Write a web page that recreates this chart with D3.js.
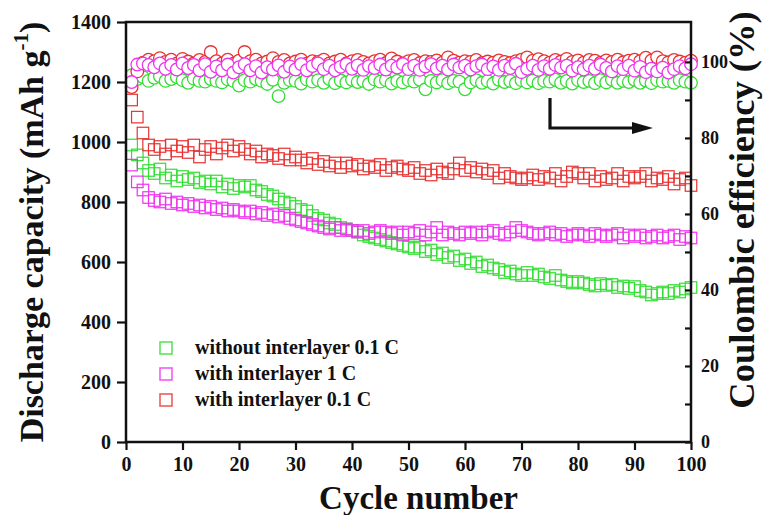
<!DOCTYPE html>
<html>
<head>
<meta charset="utf-8">
<script src="https://cdn.jsdelivr.net/npm/d3@7/dist/d3.min.js"></script>
<style>
  html, body { margin: 0; padding: 0; background: #fff; }
  svg text { font-family: "Liberation Serif", "Times New Roman", serif; font-weight: bold; fill: #111; }
</style>
</head>
<body>
<svg id="chart" width="764" height="515"></svg>
<script>
// ---------- DATA ----------
const cycles = d3.range(1, 101);

const capWithout01C = [
  990, 957, 930, 905, 895, 910, 880, 890, 870, 885,
  875, 880, 865, 870, 860, 870, 850, 860, 845, 855,
  850, 855, 840, 835, 825, 820, 810, 800, 795, 785,
  775, 770, 755, 745, 740, 730, 725, 715, 710, 705,
  700, 690, 685, 680, 675, 670, 665, 660, 655, 650,
  645, 650, 635, 640, 625, 630, 615, 620, 605, 610,
  595, 600, 585, 590, 580, 575, 565, 570, 560, 555,
  565, 555, 560, 550, 545, 555, 540, 535, 530, 535,
  530, 525, 520, 528, 522, 525, 515, 520, 512, 518,
  505, 500, 490, 495, 500, 495, 505, 500, 510, 515
];
const capWith1C = [
  923, 867, 840, 815, 805, 800, 810, 795, 800, 790,
  795, 785, 790, 780, 785, 775, 780, 770, 775, 770,
  765, 770, 760, 765, 755, 760, 750, 755, 745, 740,
  735, 730, 725, 720, 715, 710, 715, 705, 710, 705,
  700, 705, 695, 700, 705, 700, 695, 700, 690, 700,
  695, 705, 690, 700, 715, 690, 700, 695, 690, 700,
  695, 700, 690, 700, 705, 695, 690, 700, 715, 705,
  700, 695, 690, 695, 700, 690, 695, 685, 690, 695,
  690, 685, 695, 690, 685, 690, 695, 680, 690, 685,
  690, 680, 685, 690, 680, 685, 690, 675, 685, 680
];
const capWith01C = [
  1140, 1083, 1030, 990, 975, 985, 960, 990, 970, 985,
  965, 990, 950, 975, 985, 960, 980, 990, 970, 985,
  975, 960, 970, 950, 960, 955, 945, 960, 940, 950,
  940, 930, 945, 925, 935, 920, 930, 915, 930, 920,
  925, 910, 920, 915, 925, 905, 915, 920, 910, 905,
  915, 895, 905, 890, 910, 900, 895, 910, 930, 905,
  915, 900, 910, 895, 905, 880, 895, 885, 880, 875,
  880, 890, 875, 885, 880, 895, 870, 885, 900, 895,
  880, 895, 870, 885, 875, 880, 895, 870, 885, 880,
  885, 895, 870, 880, 875, 885, 860, 875, 880, 855
];

const ceWithout01C = [
  96.5, 95.5, 96, 95, 95.8, 96.2, 95, 95.5, 96, 95.2,
  94.5, 95.6, 95, 94.8, 95.5, 95, 94.6, 95.4, 95, 93.8,
  95.2, 94.8, 95.5, 95, 94.2, 95.3, 91, 94.5, 95.2, 95,
  94.3, 95.4, 94.8, 95.2, 94.5, 95.5, 94.4, 95.1, 94.6, 95.3,
  94.7, 95, 94.2, 95.4, 94.8, 95.2, 94.3, 95, 94.6, 95.2,
  94.8, 95.3, 92.8, 95, 94.6, 95.2, 94.4, 95, 94.8, 92.8,
  94.6, 95.2, 94.5, 95, 94.3, 95.3, 94.7, 95, 94.4, 95.2,
  94.6, 95.1, 94.4, 95, 94.8, 95.3, 94.5, 95, 94.3, 95.2,
  94.7, 95, 94.4, 95.2, 94.6, 95.3, 94.5, 95, 94.7, 95.3,
  94.5, 95.1, 94.4, 95.2, 94.8, 95, 94.5, 95.2, 94.8, 94.5
];
const ceWith1C = [
  94.7, 99.3, 99.6, 99.2, 98.6, 99.6, 98.2, 99.2, 98.0, 99.6,
  98.4, 99.2, 97.8, 99.4, 97.4, 98.8, 97.8, 99.3, 97.2, 98.6,
  99.4, 97.8, 98.9, 97.2, 98.6, 98.0, 99.1, 97.4, 98.8, 98.0,
  99.4, 97.8, 98.9, 99.6, 98.1, 99.0, 97.8, 98.7, 99.4, 98.2,
  99.1, 97.9, 98.9, 98.4, 99.3, 98.0, 99.0, 98.5, 99.4, 98.1,
  99.0, 97.9, 98.8, 99.4, 98.3, 99.0, 98.0, 99.3, 98.5, 99.0,
  98.0, 98.9, 99.3, 98.1, 98.8, 97.9, 99.0, 98.4, 99.5, 97.3,
  98.2, 99.0, 97.9, 98.9, 98.2, 99.2, 98.5, 99.0, 97.7, 98.6,
  98.0, 99.0, 98.2, 99.3, 98.4, 97.5, 98.9, 98.1, 99.0, 97.7,
  98.7, 97.3, 98.2, 97.5, 98.5, 97.2, 98.1, 98.9, 98.3, 99.4
];
const ceWith01C = [
  93.4, 97.5, 99.8, 100.6, 100.2, 101, 100, 100.6, 99.6, 100.8,
  100.1, 99.6, 100.5, 100, 102.6, 100.2, 99.6, 100.6, 99.5, 100.3,
  102.6, 100.2, 100.6, 99.6, 100.1, 101, 100, 100.5, 99.6, 100.1,
  100.6, 99.5, 100.2, 100, 100.6, 99.6, 100.1, 100.6, 99.6, 100.2,
  100.5, 100, 99.6, 100.2, 100.6, 99.7, 100.9, 100.1, 99.6, 100.2,
  100.5, 99.7, 100.2, 100, 100.4, 99.8, 101.2, 100.3, 99.8, 100.2,
  100, 100.5, 99.7, 100.1, 99.8, 100.4, 100, 99.7, 100.2, 100.6,
  101.2, 100.3, 100.7, 100.2, 99.8, 100.5, 100.1, 100.8, 100, 100.4,
  99.8, 100.5, 100.3, 99.8, 100.4, 100, 100.6, 99.9, 100.3, 100.6,
  100.2, 101.1, 100.4, 101.2, 100.2, 99.9, 100.5, 100.1, 99.8, 100.3
];

const seriesNames = ["without interlayer 0.1 C", "with interlayer 1 C", "with interlayer 0.1 C"];
const seriesColors = ["#33dd33", "#ee33ee", "#e83232"];

const xTicks = [0, 10, 20, 30, 40, 50, 60, 70, 80, 90, 100];
const yLeftTicks = [0, 200, 400, 600, 800, 1000, 1200, 1400];
const yRightTicks = [0, 20, 40, 60, 80, 100];
const yRightMinor = [10, 30, 50, 70, 90];

// ---------- LAYOUT ----------
const svg = d3.select("#chart");
const L = 126, R = 691, T = 22, B = 442;

const x = d3.scaleLinear().domain([0, 100]).range([L, R]);
const yL = d3.scaleLinear().domain([0, 1400]).range([B, T]);
const yR = d3.scaleLinear().domain([0, 110.5]).range([B, T]);

// ---------- MARKS ----------
const capSeries = [capWithout01C, capWith1C, capWith01C];
const ceSeries = [ceWithout01C, ceWith01C, ceWith1C];
const ceColors = [seriesColors[0], seriesColors[2], seriesColors[1]];
const sq = 11.5;

const plot = svg.append("g");

// circles (CE, right axis)
ceSeries.forEach((vals, i) => {
  plot.append("g").selectAll("circle")
    .data(vals.map((v, k) => ({c: cycles[k], v})))
    .join("circle")
    .attr("cx", d => x(d.c))
    .attr("cy", d => yR(d.v))
    .attr("r", 6.3)
    .attr("fill", "#fff")
    .attr("stroke", ceColors[i])
    .attr("stroke-width", 1.3);
});

// squares (capacity, left axis)
[0, 1, 2].forEach(i => {
  plot.append("g").selectAll("rect")
    .data(capSeries[i].map((v, k) => ({c: cycles[k], v})))
    .join("rect")
    .attr("x", d => x(d.c) - sq / 2)
    .attr("y", d => yL(d.v) - sq / 2)
    .attr("width", sq)
    .attr("height", sq)
    .attr("fill", "none")
    .attr("stroke", seriesColors[i])
    .attr("stroke-width", 1.2);
});

// ---------- AXES ----------
const axStroke = 2.5;
const xAxis = svg.append("g").attr("transform", `translate(0,${B})`)
  .call(d3.axisBottom(x).tickValues(xTicks).tickSize(8).tickPadding(7).tickFormat(d3.format("d")));
const yAxisL = svg.append("g").attr("transform", `translate(${L},0)`)
  .call(d3.axisLeft(yL).tickValues(yLeftTicks).tickSize(9).tickPadding(6).tickFormat(d3.format("d")));
const yAxisR = svg.append("g").attr("transform", `translate(${R},0)`)
  .call(d3.axisRight(yR).tickValues(yRightTicks).tickSize(-6).tickPadding(10).tickFormat(d3.format("d")));
const yAxisRMinor = svg.append("g").attr("transform", `translate(${R},0)`)
  .call(d3.axisRight(yR).tickValues(yRightMinor).tickSize(-6).tickFormat(""));

[xAxis, yAxisL, yAxisR, yAxisRMinor].forEach(g => {
  g.select(".domain").remove();
  g.selectAll(".tick line").attr("stroke", "#111").attr("stroke-width", 2.2);
  g.selectAll("text").attr("fill", "#111").attr("font-family", "Liberation Serif").attr("font-weight", "bold");
});
xAxis.selectAll("text").attr("font-size", 20);
yAxisL.selectAll("text").attr("font-size", 20);
yAxisR.selectAll("text").attr("font-size", 18);

// frame
svg.append("rect").attr("x", L).attr("y", T).attr("width", R - L).attr("height", B - T)
  .attr("fill", "none").attr("stroke", "#111").attr("stroke-width", axStroke);

// ---------- TITLES ----------
svg.append("text")
  .attr("transform", `translate(${(L + R) / 2 + 10},509)`)
  .attr("text-anchor", "middle").attr("font-size", 33)
  .text("Cycle number");

const lt = svg.append("text")
  .attr("transform", "translate(43,232) rotate(-90)")
  .attr("text-anchor", "middle").attr("font-size", 34);
lt.append("tspan").text("Discharge capacity (mAh g");
lt.append("tspan").attr("font-size", 21).attr("dy", -15).text("-1");
lt.append("tspan").attr("dy", 15).text(")");

svg.append("text")
  .attr("transform", "translate(754,210) rotate(-90)")
  .attr("text-anchor", "middle").attr("font-size", 36.5)
  .text("Coulombic efficiency (%)");

// ---------- LEGEND ----------
const legY = [348, 374, 400];
seriesNames.forEach((n, i) => {
  svg.append("rect").attr("x", 160).attr("y", legY[i] - 6).attr("width", 12).attr("height", 12)
    .attr("fill", "none").attr("stroke", seriesColors[i]).attr("stroke-width", 1.6).attr("opacity", 0.8);
  svg.append("text").attr("x", 195).attr("y", legY[i] + 6).attr("font-size", 20).text(n);
});

// ---------- ARROW ----------
svg.append("path")
  .attr("d", "M550,98 L550,128 L636,128")
  .attr("fill", "none").attr("stroke", "#111").attr("stroke-width", 3.2);
svg.append("path")
  .attr("d", "M632,122 L653,128 L632,134 Z")
  .attr("fill", "#111");
</script>
</body>
</html>
